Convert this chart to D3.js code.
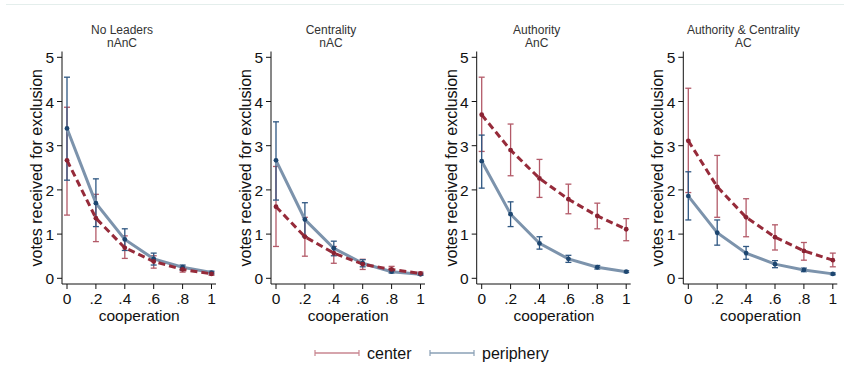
<!DOCTYPE html>
<html>
<head>
<meta charset="utf-8">
<script src="https://cdn.jsdelivr.net/npm/d3@7"></script>
<style>
  body { margin: 0; background: #fff; }
  svg { display: block; }
  .tick-label { font-family: "Liberation Sans", Arial, sans-serif; font-size: 15.5px; fill: #111; }
  .axis-title { font-family: "Liberation Sans", Arial, sans-serif; font-size: 16px; fill: #111; }
  .x-title { font-family: "Liberation Sans", Arial, sans-serif; font-size: 15.5px; fill: #111; }
  .panel-title { font-family: "Liberation Sans Narrow", "Arial Narrow", "Liberation Sans", sans-serif; font-size: 12px; fill: #333; }
</style>
</head>
<body>
<div id="chart"></div>
<script>
var w = 844,
  h = 371;

// panel titles
var titles = [
  ["No Leaders", "nAnC"],
  ["Centrality", "nAC"],
  ["Authority", "AnC"],
  ["Authority & Centrality", "AC"]
];

var xTicks = [0, 0.2, 0.4, 0.6, 0.8, 1];
var xTickLabels = ["0", ".2", ".4", ".6", ".8", "1"];
var yTicks = [0, 1, 2, 3, 4, 5];

// center: mean, upper, lower (per panel)
var centerMean = [
  [2.67, 1.36, 0.69, 0.38, 0.20, 0.10],
  [1.62, 0.94, 0.57, 0.32, 0.20, 0.11],
  [3.70, 2.90, 2.26, 1.79, 1.41, 1.11],
  [3.11, 2.07, 1.38, 0.93, 0.62, 0.41]
];
var centerHi = [
  [3.87, 1.90, 0.96, 0.51, 0.27, 0.13],
  [2.53, 1.38, 0.72, 0.43, 0.27, 0.14],
  [4.55, 3.49, 2.69, 2.13, 1.70, 1.35],
  [4.30, 2.78, 1.80, 1.21, 0.81, 0.57]
];
var centerLo = [
  [1.43, 0.83, 0.45, 0.23, 0.14, 0.07],
  [0.72, 0.50, 0.34, 0.20, 0.14, 0.08],
  [2.87, 2.32, 1.83, 1.46, 1.12, 0.85],
  [1.94, 1.38, 0.94, 0.64, 0.41, 0.26]
];

// periphery: mean, upper, lower (per panel)
var periMean = [
  [3.39, 1.70, 0.88, 0.44, 0.25, 0.13],
  [2.67, 1.33, 0.68, 0.34, 0.15, 0.09],
  [2.65, 1.45, 0.79, 0.44, 0.25, 0.15],
  [1.86, 1.03, 0.57, 0.32, 0.19, 0.10]
];
var periHi = [
  [4.55, 2.25, 1.12, 0.57, 0.30, 0.16],
  [3.54, 1.71, 0.84, 0.42, 0.19, 0.11],
  [3.24, 1.73, 0.94, 0.52, 0.29, 0.17],
  [2.41, 1.32, 0.72, 0.40, 0.23, 0.12]
];
var periLo = [
  [2.22, 1.17, 0.63, 0.30, 0.18, 0.10],
  [1.77, 0.94, 0.51, 0.26, 0.12, 0.07],
  [2.04, 1.17, 0.66, 0.36, 0.21, 0.13],
  [1.32, 0.75, 0.43, 0.24, 0.15, 0.08]
];

var legendLabels = ["center", "periphery"];

var redLine = "#962b3a",
  redBar = "#b35a68",
  redDot = "#8a2232",
  blueLine = "#7c93ac",
  blueBar = "#2f5782",
  blueDot = "#1d4670";

var svg = d3.select("#chart").append("svg").attr("width", w).attr("height", h);

// faint frame line at top
svg.append("line")
  .attr("x1", 6).attr("x2", w).attr("y1", 4.5).attr("y2", 4.5)
  .attr("stroke", "#e4eeec").attr("stroke-width", 1);

var axisXs = [62, 271, 476.7, 683.3];
var yTop = 51.5, yBase = 284;

var y = d3.scaleLinear().domain([0, 5]).range([278.3, 57.3]);

axisXs.forEach(function (ax, p) {
  var x = d3.scaleLinear().domain([0, 1]).range([ax + 5, ax + 149.5]);
  var g = svg.append("g");

  // title
  g.append("text").attr("class", "panel-title")
    .attr("x", ax + 60).attr("y", 34).attr("text-anchor", "middle").text(titles[p][0]);
  g.append("text").attr("class", "panel-title")
    .attr("x", ax + 60).attr("y", 47).attr("text-anchor", "middle").text(titles[p][1]);

  // axes
  g.append("line").attr("x1", ax).attr("x2", ax).attr("y1", yTop).attr("y2", yBase)
    .attr("stroke", "#111").attr("stroke-width", 1);
  g.append("line").attr("x1", ax).attr("x2", ax + 154).attr("y1", yBase).attr("y2", yBase)
    .attr("stroke", "#111").attr("stroke-width", 1);

  yTicks.forEach(function (t) {
    g.append("line").attr("x1", ax - 5).attr("x2", ax).attr("y1", y(t)).attr("y2", y(t))
      .attr("stroke", "#111");
    g.append("text").attr("class", "tick-label")
      .attr("x", ax - 8).attr("y", y(t) + 6).attr("text-anchor", "end").text(t);
  });
  xTicks.forEach(function (t, i) {
    g.append("line").attr("x1", x(t)).attr("x2", x(t)).attr("y1", yBase).attr("y2", yBase + 5)
      .attr("stroke", "#111");
    g.append("text").attr("class", "tick-label")
      .attr("x", x(t)).attr("y", 304).attr("text-anchor", "middle").text(xTickLabels[i]);
  });

  g.append("text").attr("class", "axis-title")
    .attr("transform", "translate(" + (ax - 20) + "," + ((yTop + yBase) / 2) + ") rotate(-90)")
    .attr("text-anchor", "middle").text("votes received for exclusion");
  g.append("text").attr("class", "x-title")
    .attr("x", x(0.5)).attr("y", 321).attr("text-anchor", "middle").text("cooperation");

  function bars(mean, hi, lo, color) {
    xTicks.forEach(function (t, i) {
      g.append("line").attr("x1", x(t)).attr("x2", x(t)).attr("y1", y(hi[i])).attr("y2", y(lo[i]))
        .attr("stroke", color).attr("stroke-width", 1.3);
      [hi[i], lo[i]].forEach(function (v) {
        g.append("line").attr("x1", x(t) - 3).attr("x2", x(t) + 3).attr("y1", y(v)).attr("y2", y(v))
          .attr("stroke", color).attr("stroke-width", 1.3);
      });
    });
  }
  bars(centerMean[p], centerHi[p], centerLo[p], redBar);
  bars(periMean[p], periHi[p], periLo[p], blueBar);

  var line = d3.line().x(function (d, i) { return x(xTicks[i]); }).y(function (d) { return y(d); });

  g.append("path").datum(periMean[p]).attr("d", line)
    .attr("fill", "none").attr("stroke", blueLine).attr("stroke-width", 3);
  g.append("path").datum(centerMean[p]).attr("d", line)
    .attr("fill", "none").attr("stroke", redLine).attr("stroke-width", 3)
    .attr("stroke-dasharray", "7,4");

  g.selectAll(".pd").data(periMean[p]).enter().append("circle")
    .attr("cx", function (d, i) { return x(xTicks[i]); }).attr("cy", function (d) { return y(d); })
    .attr("r", 2.4).attr("fill", blueDot);
  g.selectAll(".cd").data(centerMean[p]).enter().append("circle")
    .attr("cx", function (d, i) { return x(xTicks[i]); }).attr("cy", function (d) { return y(d); })
    .attr("r", 2.4).attr("fill", redDot);
});

// legend
var legendX = [315, 430];
var legendColors = ["#c88690", "#8aa0b6"];
legendLabels.forEach(function (lab, i) {
  var lx = legendX[i], ly = 353;
  svg.append("line").attr("x1", lx).attr("x2", lx + 44).attr("y1", ly).attr("y2", ly)
    .attr("stroke", legendColors[i]).attr("stroke-width", 1.5);
  [lx, lx + 44].forEach(function (cx) {
    svg.append("line").attr("x1", cx).attr("x2", cx).attr("y1", ly - 3).attr("y2", ly + 3)
      .attr("stroke", legendColors[i]).attr("stroke-width", 1.2);
  });
  svg.append("text").attr("class", "axis-title")
    .attr("x", lx + 52).attr("y", ly + 6).text(lab);
});
</script>
</body>
</html>
